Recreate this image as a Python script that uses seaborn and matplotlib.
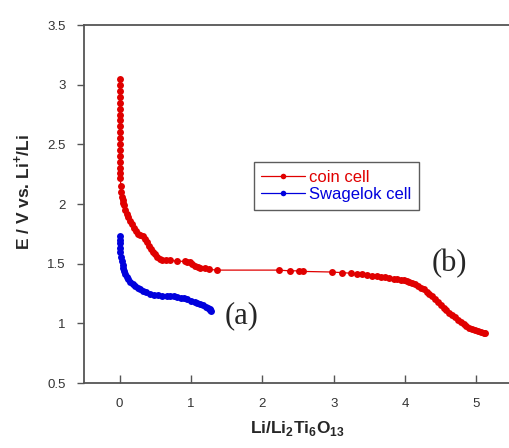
import numpy as np
import pandas as pd
import seaborn as sns
import matplotlib.pyplot as plt

# --- data ---
coin_x = [0.00, 0.00, 0.00, 0.00, 0.00, 0.00, 0.00, 0.00, 0.00, 0.00,
          0.00, 0.00, 0.00, 0.00, 0.00,
          0.005, 0.008, 0.01, 0.015, 0.02, 0.03, 0.04, 0.05, 0.06, 0.08, 0.10,
          0.12, 0.14, 0.17, 0.20, 0.23, 0.26, 0.29, 0.32, 0.35, 0.38,
          0.41, 0.44, 0.47, 0.50, 0.53, 0.56, 0.60, 0.65, 0.70, 0.81,
          0.92, 0.95, 0.98, 1.02, 1.06, 1.10, 1.13, 1.19, 1.25, 1.37,
          2.23, 2.38, 2.52, 2.57, 2.97, 3.11, 3.24, 3.33, 3.40, 3.47,
          3.54, 3.60, 3.66, 3.72, 3.78, 3.84, 3.89, 3.94, 3.98, 4.02,
          4.06, 4.10, 4.14, 4.18, 4.22, 4.26, 4.30, 4.34, 4.38, 4.42,
          4.46, 4.50, 4.54, 4.58, 4.62, 4.66, 4.70, 4.74, 4.78, 4.82,
          4.86, 4.90, 4.94, 4.98, 5.02, 5.06, 5.10, 5.12]
coin_y = [3.05, 3.00, 2.95, 2.90, 2.85, 2.80, 2.75, 2.70, 2.65, 2.60,
          2.55, 2.50, 2.45, 2.40, 2.35,
          2.30, 2.26, 2.22, 2.15, 2.10, 2.06, 2.03, 2.01, 1.99, 1.95, 1.92,
          1.89, 1.86, 1.83, 1.80, 1.77, 1.75, 1.74, 1.73, 1.71, 1.68,
          1.65, 1.62, 1.60, 1.58, 1.56, 1.54, 1.53, 1.53, 1.53, 1.52,
          1.52, 1.515, 1.51, 1.50, 1.48, 1.47, 1.465, 1.46, 1.452, 1.446,
          1.446, 1.44, 1.44, 1.435, 1.43, 1.425, 1.42, 1.415, 1.41, 1.405,
          1.40, 1.395, 1.39, 1.385, 1.38, 1.375, 1.37, 1.365, 1.36, 1.355,
          1.35, 1.34, 1.33, 1.315, 1.30, 1.285, 1.265, 1.245, 1.225, 1.20,
          1.18, 1.155, 1.13, 1.11, 1.09, 1.07, 1.05, 1.03, 1.01, 0.995,
          0.98, 0.965, 0.955, 0.945, 0.935, 0.93, 0.92, 0.915]

swag_x = [0.00, 0.00, 0.00, 0.005, 0.01, 0.02, 0.03, 0.04, 0.05, 0.06,
          0.08, 0.10, 0.12, 0.15, 0.18, 0.21, 0.25, 0.29, 0.33, 0.37,
          0.42, 0.48, 0.54, 0.60, 0.66, 0.71, 0.76, 0.81, 0.86, 0.90,
          0.95, 1.00, 1.05, 1.09, 1.13, 1.17, 1.21, 1.24, 1.26, 1.27, 1.28]
swag_y = [1.73, 1.70, 1.67, 1.63, 1.60, 1.56, 1.52, 1.49, 1.46, 1.44,
          1.41, 1.39, 1.37, 1.35, 1.33, 1.315, 1.30, 1.29, 1.275, 1.26,
          1.25, 1.24, 1.235, 1.23, 1.225, 1.225, 1.225, 1.22, 1.215, 1.21,
          1.20, 1.19, 1.18, 1.17, 1.16, 1.15, 1.14, 1.13, 1.12, 1.11, 1.10]

x_ticks = [0, 1, 2, 3, 4, 5]
y_ticks = [0.5, 1, 1.5, 2, 2.5, 3, 3.5]
y_ticklabels = ['0.5', '1', '1.5', '2', '2.5', '3', '3.5']

coin = pd.DataFrame({'x': coin_x, 'y': coin_y})
swag = pd.DataFrame({'x': swag_x, 'y': swag_y})

sns.set_style("white")
plt.rcParams['font.family'] = ['Liberation Sans', 'DejaVu Sans']
plt.rcParams['mathtext.fontset'] = 'custom'
plt.rcParams['mathtext.rm'] = 'Liberation Sans'
plt.rcParams['mathtext.bf'] = 'Liberation Sans:bold'

fig = plt.figure(figsize=(5.10, 4.48), dpi=100)
ax = fig.add_axes([84 / 510, 1 - 383 / 448, 1 - 84 / 510, (383 - 25) / 448])

sns.lineplot(data=coin, x='x', y='y', estimator=None, sort=False, ax=ax,
             color='#e00000', linewidth=0.9, marker='o', markersize=5,
             markeredgewidth=0, label='coin cell')
sns.lineplot(data=swag, x='x', y='y', estimator=None, sort=False, ax=ax,
             color='#0000dd', linewidth=0.9, marker='o', markersize=5,
             markeredgewidth=0, label='Swagelok cell')

ax.set_xlim(-0.5, 5.47)
ax.set_ylim(0.5, 3.5)
ax.set_xticks(x_ticks)
ax.set_yticks(y_ticks)
ax.set_yticklabels(y_ticklabels)

for s in ['top', 'left', 'bottom']:
    ax.spines[s].set_color('#555555')
    ax.spines[s].set_linewidth(1.3)
ax.spines['right'].set_visible(False)
ax.tick_params(axis='y', direction='out', length=5, width=1, color='#555555',
               labelsize=9.5, labelcolor='#333333', left=True, pad=8)
ax.tick_params(axis='x', direction='in', length=6, width=1, color='#555555',
               labelsize=9.5, labelcolor='#333333', bottom=True, pad=11)

ax.set_ylabel(r'E / V vs. Li$^{\mathbf{+}}$/Li', fontsize=12.5, fontweight='bold')
ax.yaxis.set_label_coords(-0.122, 0.534)
ax.set_xlabel(r'Li/Li$_{\mathbf{2}}$Ti$_{\mathbf{6}}$O$_{\mathbf{13}}$',
              fontsize=12.5, fontweight='bold')
ax.xaxis.set_label_coords(0.5, -0.10)

ax.text(1.71, 1.06, '(a)', fontsize=22, family='Liberation Serif',
        ha='center', va='center')
ax.text(4.62, 1.50, '(b)', fontsize=22, family='Liberation Serif',
        ha='center', va='center')

leg = ax.legend(loc='upper left', bbox_to_anchor=(0.399, 0.617), fontsize=12,
                frameon=True, fancybox=False, edgecolor='#333333',
                handlelength=2.6, borderpad=0.45, labelspacing=0.15,
                handletextpad=0.25, borderaxespad=0, labelcolor='linecolor')
leg.get_frame().set_linewidth(1.0)
for h in leg.legend_handles:
    h.set_markersize(4)

plt.savefig("out.png", dpi=100)
